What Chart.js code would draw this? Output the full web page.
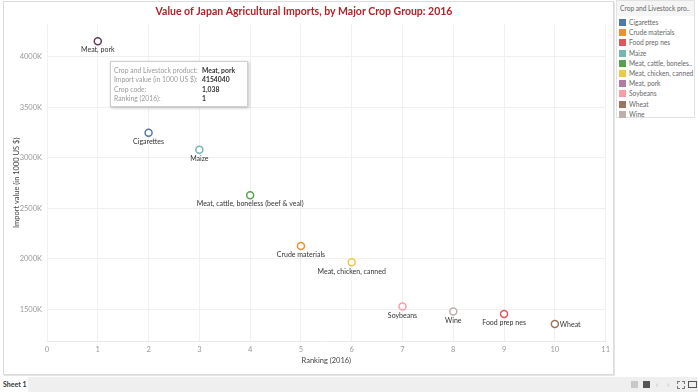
<!DOCTYPE html>
<html>
<head>
<meta charset="utf-8">
<script src="https://cdn.jsdelivr.net/npm/chart.js@4"></script>
<style>
  body { margin: 0; width: 698px; height: 392px; background: #fff; font-family: Lato, "Open Sans", sans-serif; overflow: hidden; position: relative; }
  #sheet { position: absolute; left: 3px; top: 1px; width: 609px; height: 372px; border: 1px solid #dcdcdc; box-shadow: 1px 1px 0 #e4e4e4; }
  #chart { position: absolute; left: 0; top: 0; }
  #legend { position: absolute; left: 616px; top: 0; width: 77px; height: 116px; border: 1px solid #e2e2e2; background: #fff; }
  #legend .ttl { height: 15px; line-height: 15px; background: #f5f5f5; color: #666; font-size: 6.6px; padding-left: 3px; padding-right: 2px; white-space: nowrap; overflow: hidden; }
  #legend .item { position: absolute; left: 2px; height: 10px; width: 75px; font-size: 6.6px; color: #666; line-height: 10px; white-space: nowrap; overflow: hidden; }
  #legend .sw { display: inline-block; width: 7px; height: 7px; vertical-align: -1px; margin-right: 3px; }
  #tip { position: absolute; left: 110px; top: 61px; width: 136px; height: 44px; border: 1px solid #cfcfcf; background: #fff; box-shadow: 1px 1px 3px rgba(0,0,0,0.25); font-size: 6.8px; }
  #tip .row { position: absolute; left: 3px; height: 9px; line-height: 9px; white-space: nowrap; }
  #tip .k { position: absolute; left: 0; color: #9a9a9a; }
  #tip .v { position: absolute; left: 88px; color: #333; font-weight: bold; }
  #bar { position: absolute; left: 0; top: 377px; width: 698px; height: 15px; background: #efefef; }
  #tab { position: absolute; left: 0; top: 0; width: 28px; height: 15px; background: #fff; font-size: 7px; font-weight: bold; color: #333; line-height: 15px; padding-left: 3px; box-sizing: border-box; }
  .ic { position: absolute; top: 4px; }
</style>
</head>
<body>
<div id="sheet"></div>
<canvas id="chart" width="614" height="375"></canvas>
<div id="legend"><div class="ttl">Crop and Livestock product</div></div>
<div id="tip"></div>
<div id="bar">
  <div id="tab">Sheet 1</div>
  <div class="ic" style="left:631px;width:7px;height:7px;background:#c8c8c8"></div>
  <div class="ic" style="left:643px;width:7px;height:7px;background:#555"></div>
  <div class="ic" style="left:656px;top:2px;font-size:8px;color:#aaa">&lsaquo;</div>
  <div class="ic" style="left:667px;top:2px;font-size:8px;color:#aaa">&rsaquo;</div>
  <div class="ic" style="left:677px;width:6px;height:6px;border:1px dashed #777"></div>
  <div class="ic" style="left:688px;width:7px;height:5px;border:1px solid #555"></div>
</div>
<script>
// Données
const crops = ['Cigarettes', 'Crude materials', 'Food prep nes', 'Maize',
    'Meat, cattle, boneless (beef & veal)', 'Meat, chicken, canned', 'Meat, pork',
    'Soybeans', 'Wheat', 'Wine'];
const rankings = [2, 5, 9, 3, 4, 6, 1, 7, 10, 8];
const importValues = [3247000, 2128000, 1454000, 3079000, 2631000, 1967000, 4154040, 1530000, 1355000, 1480000];
const yTicks = [1500000, 2000000, 2500000, 3000000, 3500000, 4000000];
const xTicks = [0, 1, 2, 3, 4, 5, 6, 7, 8, 9, 10, 11];
const colors = ['#4e79a7', '#f28e2b', '#e15759', '#76b7b2', '#59a14f', '#edc948', '#b07aa1', '#ff9da7', '#9c755f', '#bab0ac'];
const selectedCrop = 'Meat, pork';
const selectedCropCode = 1038;

// Coupe le texte à la façon de Tableau ("..")
function truncate(el) {
    const node = el.lastChild;
    const full = node.textContent;
    let n = full.length;
    while (el.scrollWidth > el.clientWidth && n > 1) {
        n--;
        node.textContent = full.slice(0, n).trimEnd() + '..';
    }
}

document.addEventListener("DOMContentLoaded", function() {
    // Légende
    const legend = document.getElementById('legend');
    crops.forEach(function(c, i) {
        const item = document.createElement('div');
        item.className = 'item';
        item.style.top = (16 + i * 10.2) + 'px';
        item.innerHTML = '<span class="sw" style="background:' + colors[i] + '"></span>';
        item.appendChild(document.createTextNode(c));
        legend.appendChild(item);
        truncate(item);
    });
    truncate(legend.querySelector('.ttl'));

    // Infobulle fixe (Meat, pork)
    const s = crops.indexOf(selectedCrop);
    const rows = [
        ['Crop and Livestock product:', crops[s]],
        ['Import value (in 1000 US $):', String(importValues[s])],
        ['Crop code:', selectedCropCode.toLocaleString('en-US')],
        ['Ranking (2016):', String(rankings[s])]
    ];
    const tip = document.getElementById('tip');
    rows.forEach(function(r, i) {
        const row = document.createElement('div');
        row.className = 'row';
        row.style.top = (4 + i * 9.3) + 'px';
        row.innerHTML = '<span class="k">' + r[0] + '</span><span class="v">' + r[1] + '</span>';
        tip.appendChild(row);
    });

    // Étiquettes des points
    const pointLabels = {
        id: 'pointLabels',
        afterDatasetsDraw(chart) {
            const ctx = chart.ctx;
            ctx.save();
            ctx.font = '7px Lato';
            ctx.fillStyle = '#333';
            ctx.textBaseline = 'middle';
            chart.data.datasets.forEach(function(ds, i) {
                const pt = chart.getDatasetMeta(i).data[0];
                if (ds.label === 'Wheat') {
                    ctx.textAlign = 'left';
                    ctx.fillText(ds.label, pt.x + 5, pt.y + 0.5);
                } else {
                    ctx.textAlign = 'center';
                    ctx.fillText(ds.label, pt.x, pt.y + 9);
                }
            });
            ctx.restore();
        }
    };

    const ctx = document.getElementById('chart').getContext('2d');
    new Chart(ctx, {
        type: 'scatter',
        data: {
            datasets: crops.map(function(c, i) {
                const col = c === selectedCrop ? '#5e3f57' : colors[i];
                return {
                    label: c,
                    data: [{ x: rankings[i], y: importValues[i] }],
                    borderColor: col,
                    backgroundColor: '#fff',
                    pointRadius: 3.5,
                    pointBorderWidth: 1.5
                };
            })
        },
        options: {
            responsive: false,
            devicePixelRatio: 1,
            animation: false,
            layout: { padding: { left: 0, right: 6, top: 0, bottom: 0 } },
            plugins: {
                legend: { display: false },
                tooltip: { enabled: false },
                title: {
                    display: true,
                    text: 'Value of Japan Agricultural Imports, by Major Crop Group: 2016',
                    color: '#b0232a',
                    font: { family: 'Lato', size: 10.5, weight: 'bold' },
                    padding: { top: 5, bottom: 7 }
                }
            },
            scales: {
                x: {
                    type: 'linear',
                    min: 0,
                    max: 11,
                    afterBuildTicks: function(scale) { scale.ticks = xTicks.map(v => ({ value: v })); },
                    afterFit: function(scale) { scale.height = 34; },
                    ticks: { color: '#999', font: { family: 'Lato', size: 7.5 }, padding: 4, maxRotation: 0 },
                    grid: { color: '#f0f0f0', drawTicks: false },
                    border: { color: '#e8e8e8' },
                    title: { display: true, text: 'Ranking (2016)', color: '#444', font: { family: 'Lato', size: 7.5 }, padding: { top: 0, bottom: 10 } }
                },
                y: {
                    min: 1188000,
                    max: 4318000,
                    afterBuildTicks: function(scale) { scale.ticks = yTicks.map(v => ({ value: v })); },
                    afterFit: function(scale) { scale.width = 47; },
                    ticks: { color: '#999', font: { family: 'Lato', size: 7.5 }, padding: 5, callback: v => (v / 1000) + 'K' },
                    grid: { color: '#f0f0f0', drawTicks: false },
                    border: { display: false },
                    title: { display: true, text: 'Import value (in 1000 US $)', color: '#444', font: { family: 'Lato', size: 7.5 }, padding: { top: 12, bottom: 0 } }
                }
            }
        },
        plugins: [pointLabels]
    });
});
</script>
</body>
</html>
